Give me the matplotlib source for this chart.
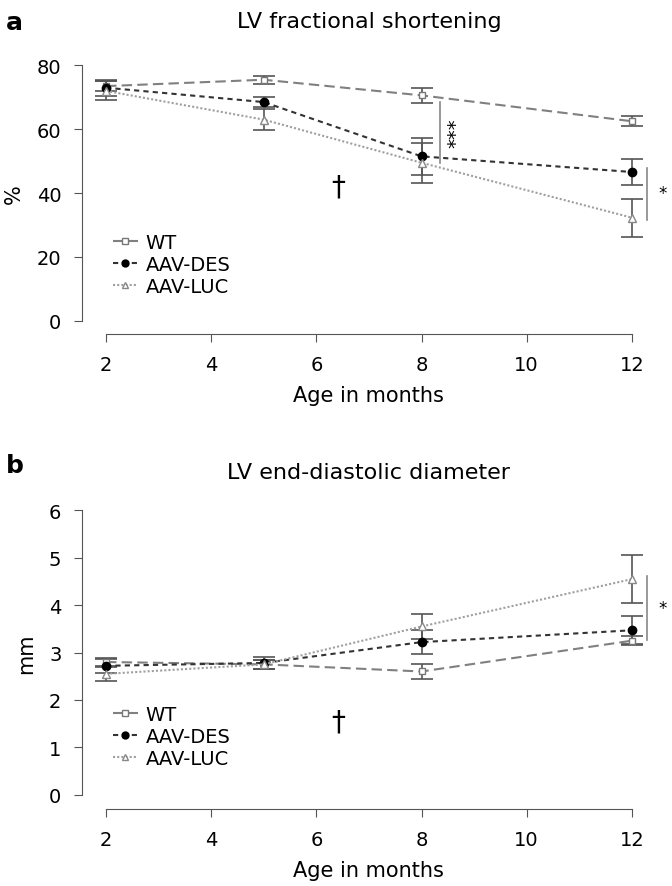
import numpy as np
import matplotlib.pyplot as plt
from matplotlib.lines import Line2D

plt.rcParams['font.family'] = ['DejaVu Sans']

# Age in months
ages = [2, 5, 8, 12]

# Panel a: LV fractional shortening (%)
fs_wt = [73.5, 75.5, 70.6, 62.5]
fs_wt_err = [1.5, 1.2, 2.4, 1.6]
fs_des = [73.0, 68.5, 51.5, 46.6]
fs_des_err = [2.5, 1.6, 5.9, 4.2]
fs_luc = [72.0, 63.0, 49.5, 32.3]
fs_luc_err = [3.0, 3.2, 6.2, 6.0]

# Panel b: LV end-diastolic diameter (mm)
dd_wt = [2.80, 2.75, 2.60, 3.25]
dd_wt_err = [0.08, 0.10, 0.15, 0.10]
dd_des = [2.72, 2.78, 3.22, 3.47]
dd_des_err = [0.15, 0.12, 0.25, 0.30]
dd_luc = [2.55, 2.75, 3.55, 4.55]
dd_luc_err = [0.15, 0.10, 0.27, 0.50]

groups = ["WT", "AAV-DES", "AAV-LUC"]
styles = {
    "WT": dict(color="#808080", ls=(0, (5, 2.5)), marker="s", mfc="white", mec="#777777", ms=5),
    "AAV-DES": dict(color="#333333", ls=(0, (2.5, 2)), marker="o", mfc="black", mec="black", ms=6),
    "AAV-LUC": dict(color="#a0a0a0", ls=(0, (1, 1)), marker="^", mfc="white", mec="#888888", ms=6),
}

fig = plt.figure(figsize=(6.72, 8.87), dpi=100)
ax_a = fig.add_axes([0.1265, 0.6257, 0.845, 0.311])
ax_b = fig.add_axes([0.1265, 0.0902, 0.845, 0.346])


def draw_panel(ax, series, ylim, yticks, ylabel, title, title_pad):
    handles = []
    for name, (vals, errs) in zip(groups, series):
        st = styles[name]
        ax.errorbar(ages, vals, yerr=errs, color=st["color"], ls=st["ls"], lw=1.5,
                    marker=st["marker"], mfc=st["mfc"], mec=st["mec"], ms=st["ms"],
                    ecolor="#555555", elinewidth=1.2, capsize=8, capthick=1.2)
        handles.append(Line2D([], [], color=st["color"], ls=st["ls"], lw=1.5,
                              marker=st["marker"], mfc=st["mfc"], mec=st["mec"],
                              ms=st["ms"] - 1, label=name))
    ax.set_xlim(1.6, 12.4)
    pad = (ylim[1] - ylim[0]) * 0.04
    ax.set_ylim(ylim[0] - pad, ylim[1] + pad)
    ax.set_xticks([2, 4, 6, 8, 10, 12])
    ax.set_yticks(yticks)
    for s in ["top", "right"]:
        ax.spines[s].set_visible(False)
    ax.spines["left"].set_bounds(ylim[0], ylim[1])
    ax.spines["bottom"].set_bounds(2, 12)
    for s in ["left", "bottom"]:
        ax.spines[s].set_color("#555555")
        ax.spines[s].set_position(("outward", 2))
    ax.tick_params(length=6, color="#555555", labelsize=14, pad=9)
    ax.set_xlabel("Age in months", fontsize=15, labelpad=8)
    ax.set_ylabel(ylabel, fontsize=15, labelpad=9)
    ax.set_title(title, fontsize=16, pad=title_pad)
    ax.legend(handles=handles, loc="lower left", bbox_to_anchor=(0.035, 0.1),
              frameon=False, fontsize=14, handlelength=1.3, handletextpad=0.4,
              labelspacing=0.15, borderaxespad=0)


draw_panel(ax_a, [(fs_wt, fs_wt_err), (fs_des, fs_des_err), (fs_luc, fs_luc_err)],
           (0, 80), [0, 20, 40, 60, 80], "%", "LV fractional shortening", 20)
draw_panel(ax_b, [(dd_wt, dd_wt_err), (dd_des, dd_des_err), (dd_luc, dd_luc_err)],
           (0, 6), [0, 1, 2, 3, 4, 5, 6], "mm", "LV end-diastolic diameter", 15)

# significance marks
ax_a.plot([8.35, 8.35], [68.4, 49.5], color="#888888", lw=1.2)
ax_a.text(8.65, 59, "***", rotation=90, ha="center", va="center", fontsize=14)
ax_a.plot([12.28, 12.28], [48, 31.6], color="#888888", lw=1.2, clip_on=False)
ax_a.text(12.59, 40, "*", ha="center", va="center", fontsize=12, clip_on=False)
ax_a.text(6.41, 42, "\u2020", ha="center", va="center", fontsize=20)

ax_b.plot([12.28, 12.28], [4.62, 3.27], color="#888888", lw=1.2, clip_on=False)
ax_b.text(12.59, 3.93, "*", ha="center", va="center", fontsize=12, clip_on=False)
ax_b.text(6.41, 1.54, "\u2020", ha="center", va="center", fontsize=20)

fig.text(0.008, 0.988, "a", fontsize=18, fontweight="bold", va="top")
fig.text(0.008, 0.488, "b", fontsize=18, fontweight="bold", va="top")

fig.savefig("out.png", dpi=100)
